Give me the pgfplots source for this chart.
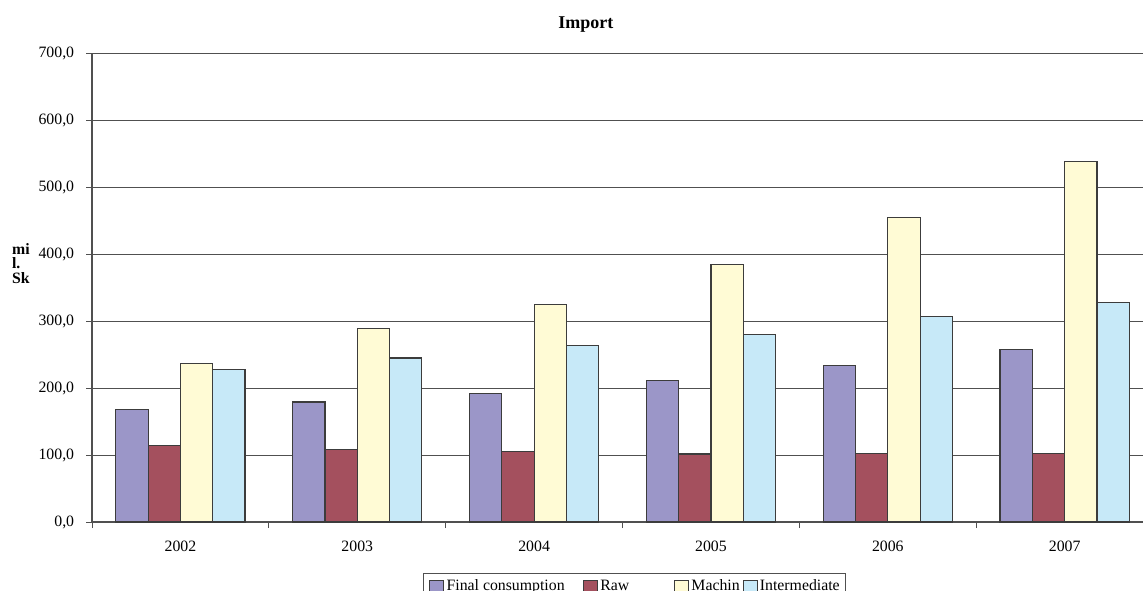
\documentclass[border=0pt]{standalone}
\usepackage{fontspec}
\setmainfont{Liberation Serif}
\usepackage{pgfplots}
\pgfplotsset{compat=1.18}
\definecolor{cFC}{RGB}{155,150,200}
\definecolor{cRaw}{RGB}{164,80,94}
\definecolor{cMach}{RGB}{255,251,213}
\definecolor{cInt}{RGB}{199,233,248}
\definecolor{edge}{RGB}{60,60,60}
\definecolor{gridc}{RGB}{80,80,80}
\begin{document}
\begin{tikzpicture}
\begin{axis}[
  at={(0,0)}, anchor=south west,
  scale only axis, width=525.5pt, height=234.5pt,
  xmin=-0.5, xmax=5.443, ymin=0, ymax=700,
  axis lines*=left,
  axis line style={draw=gridc, line width=0.6pt},
  ybar=0pt, bar width=0.1826,
  xtick={-0.5,0.5,1.5,2.5,3.5,4.5},
  xticklabels={2002,2003,2004,2005,2006,2007},
  xticklabel style={xshift=44.21pt, yshift=-2.9pt},
  ytick={0,100,...,700},
  yticklabel style={xshift=-2.4pt, /pgf/number format/.cd, fixed, fixed zerofill, precision=1, use comma, 1000 sep={}},
  /pgf/number format/assume math mode=true,
  ymajorgrids, grid style={draw=gridc, line width=0.5pt},
  tick align=outside, major tick length=3pt,
  tick style={draw=gridc, line width=0.5pt},
  tick label style={font=\fontsize{7.9}{9}\selectfont},
  title=Import,
  title style={font=\bfseries\fontsize{9}{10}\selectfont, at={(axis description cs:0.4698,1.0271)}, anchor=base, yshift=0pt},
  legend columns=4,
  legend style={at={(axis description cs:0.3152,-0.1094)}, anchor=north west,
    draw=gridc, line width=0.5pt, inner xsep=2.85pt, inner ysep=2.35pt,
    column sep=0pt, row sep=0pt, font=\fontsize{7.9}{9}\selectfont,
    nodes={inner sep=0pt, text height=6pt, text depth=3pt}},
  legend image code/.code={\draw[#1, line width=0.5pt] (0pt,-3.5pt) rectangle (7pt,3.5pt); \path (8pt,0pt);},
]
\addplot[fill=cFC, draw=edge, line width=0.6pt] coordinates {(0,168.5) (1,179) (2,192) (3,211) (4,234) (5,258)};
\addlegendentry{\makebox[68.35pt][l]{Final consumption}}
\addplot[fill=cRaw, draw=edge, line width=0.6pt] coordinates {(0,114.5) (1,108.5) (2,105) (3,101.5) (4,102) (5,102)};
\addlegendentry{\makebox[37pt][l]{Raw}}
\addplot[fill=cMach, draw=edge, line width=0.6pt] coordinates {(0,236) (1,288.5) (2,325) (3,384) (4,455) (5,538)};
\addlegendentry{\makebox[25.65pt][l]{Machin}}
\addplot[fill=cInt, draw=edge, line width=0.6pt] coordinates {(0,227.5) (1,244.7) (2,263) (3,280) (4,306.5) (5,328)};
\addlegendentry{Intermediate}
\end{axis}
\node[anchor=west, align=left, font=\bfseries\fontsize{7.9}{7.25}\selectfont, inner sep=0pt] at (-40.15pt,129.4pt) {mi\\l.\\Sk};
\pgfresetboundingbox
\path (-46pt,-34pt) rectangle (525.5pt,261pt);
\end{tikzpicture}
\end{document}
